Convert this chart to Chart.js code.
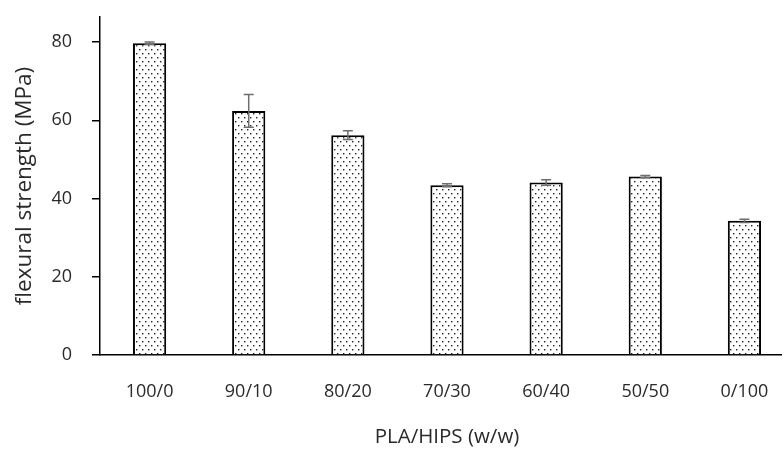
<!DOCTYPE html>
<html>
<head>
<meta charset="utf-8">
<script src="https://cdn.jsdelivr.net/npm/chart.js@4.4.0/dist/chart.umd.min.js"></script>
<style>
  html, body { margin: 0; padding: 0; background: #fff; overflow: hidden; }
  #wrap { width: 800px; height: 449px; }
</style>
</head>
<body>
<div id="wrap"><canvas id="myChart" width="800" height="449"></canvas></div>
<script>
var labels = ['100/0', '90/10', '80/20', '70/30', '60/40', '50/50', '0/100'];
var strength = [79.7, 62.4, 56.2, 43.4, 44.1, 45.6, 34.3];
var errors = [0.3, 4.2, 1.1, 0.4, 0.7, 0.3, 0.4];
var yTicks = [0, 20, 40, 60, 80];

// dotted fill like the excel pattern
function dotPattern(){
    var c = document.createElement('canvas');
    c.width = 6; c.height = 8;
    var g = c.getContext('2d');
    g.fillStyle = '#fff';
    g.fillRect(0, 0, 6, 8);
    g.fillStyle = '#222';
    g.fillRect(1, 1, 1.4, 1.4);
    g.fillRect(4, 5, 1.4, 1.4);
    return g.createPattern(c, 'repeat');
}

var errorBars = {
    id: 'errorBars',
    afterDatasetsDraw: function(chart){
        var ctx = chart.ctx;
        var meta = chart.getDatasetMeta(0);
        var y = chart.scales.y;
        ctx.save();
        ctx.strokeStyle = '#6e6e6e';
        ctx.lineWidth = 1.5;
        meta.data.forEach(function(bar, i){
            var x = bar.x;
            var top = y.getPixelForValue(strength[i] + errors[i]);
            var bot = y.getPixelForValue(strength[i] - errors[i]);
            ctx.beginPath();
            ctx.moveTo(x, top); ctx.lineTo(x, bot);
            ctx.moveTo(x - 5, top); ctx.lineTo(x + 5, top);
            ctx.moveTo(x - 5, bot); ctx.lineTo(x + 5, bot);
            ctx.stroke();
        });
        ctx.restore();
    }
};

var font = { family: 'Open Sans', size: 18 };

var ctx = document.getElementById('myChart').getContext('2d');
var chart = new Chart(ctx, {
    type: 'bar',
    data: {
        labels: labels,
        datasets: [{
            data: strength,
            backgroundColor: dotPattern(),
            borderColor: '#000',
            borderWidth: 2,
            barPercentage: 0.335,
            categoryPercentage: 1
        }]
    },
    options: {
        responsive: false,
        animation: false,
        layout: { padding: { top: 17, right: 6, left: 0, bottom: 0 } },
        plugins: { legend: { display: false }, tooltip: { enabled: false } },
        scales: {
            x: {
                grid: { drawOnChartArea: false, drawTicks: false },
                border: { color: '#000', width: 1.5 },
                ticks: { color: '#2a2a2a', font: font, padding: 26, maxRotation: 0 },
                title: { display: true, text: 'PLA/HIPS (w/w)', color: '#2a2a2a', font: { family: 'Open Sans', size: 20.5 }, padding: { top: 0, bottom: 0 } },
                afterFit: function(s){ s.height = 94; s.paddingLeft = 0; s.paddingRight = 0; }
            },
            y: {
                min: 0,
                max: 86.4,
                grid: { drawOnChartArea: false, tickLength: 8, color: '#000', lineWidth: 1.5 },
                border: { color: '#000', width: 1.5 },
                ticks: { color: '#2a2a2a', font: font, padding: 20, stepSize: 20, includeBounds: false },
                afterBuildTicks: function(s){ s.ticks = yTicks.map(function(v){ return { value: v }; }); },
                title: { display: true, text: 'flexural strength (MPa)', color: '#2a2a2a', font: { family: 'Open Sans', size: 22.5 }, padding: { top: 11, bottom: 0 } },
                afterFit: function(s){ s.width = 100; s.paddingTop = 0; s.paddingBottom = 0; }
            }
        }
    },
    plugins: [errorBars]
});
</script>
</body>
</html>
